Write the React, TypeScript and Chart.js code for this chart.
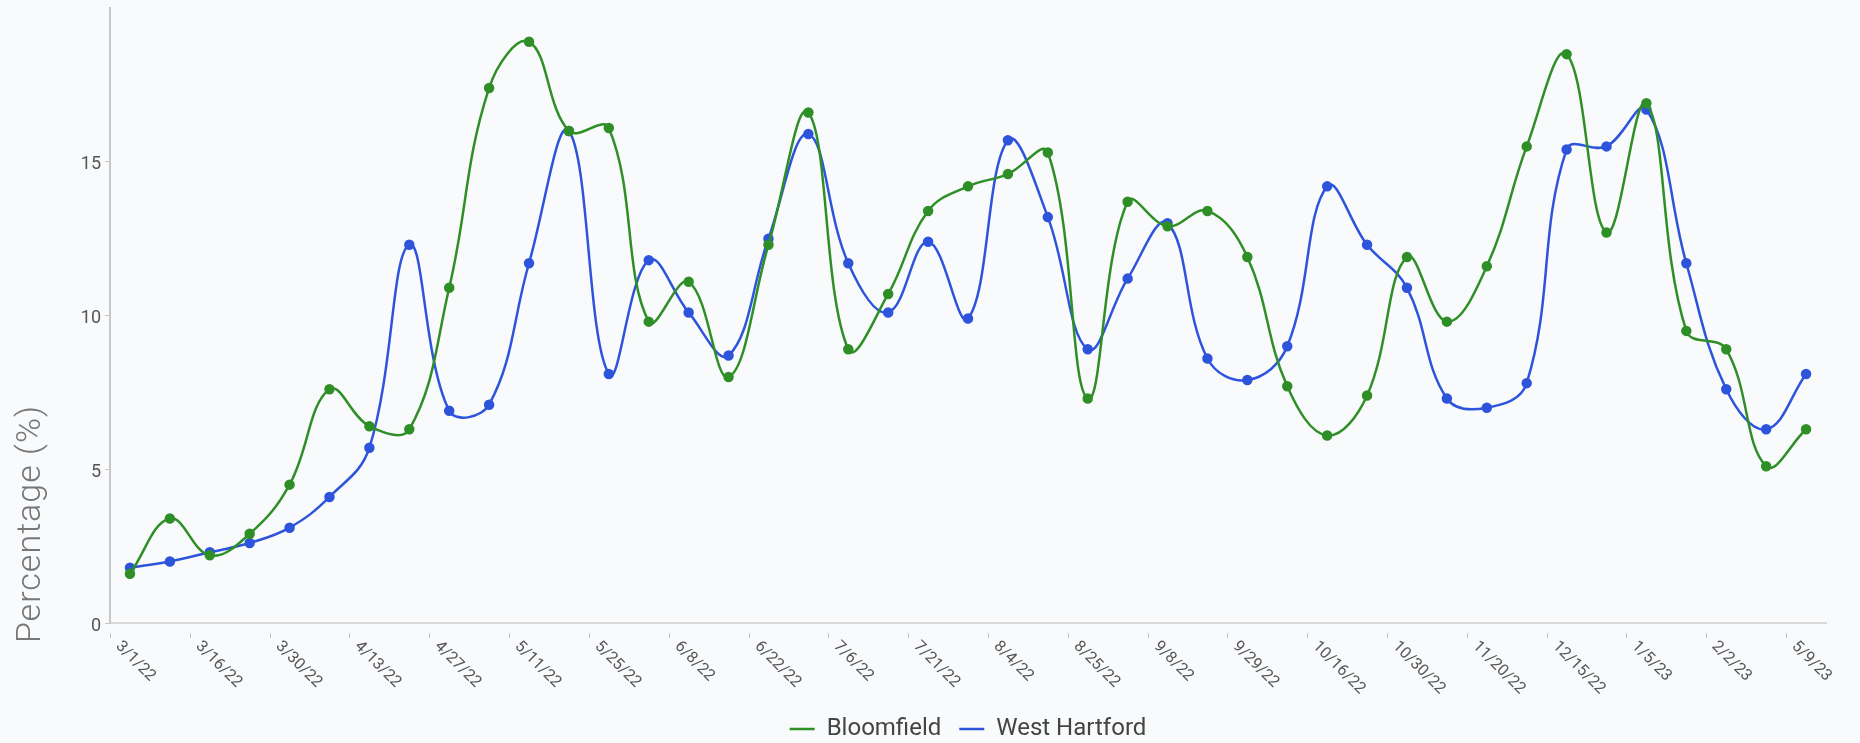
import React, { useEffect, useRef } from 'react';
import { Chart, registerables } from 'chart.js';

Chart.register(...registerables);

const categories = [
  '3/1/22', '3/9/22', '3/16/22', '3/23/22', '3/30/22', '4/6/22', '4/13/22', '4/20/22',
  '4/27/22', '5/4/22', '5/11/22', '5/18/22', '5/25/22', '6/1/22', '6/8/22', '6/15/22',
  '6/22/22', '6/29/22', '7/6/22', '7/13/22', '7/21/22', '7/28/22', '8/4/22', '8/11/22',
  '8/25/22', '9/1/22', '9/8/22', '9/15/22', '9/29/22', '10/9/22', '10/16/22', '10/23/22',
  '10/30/22', '11/6/22', '11/20/22', '12/1/22', '12/15/22', '12/22/22', '1/5/23', '1/19/23',
  '2/2/23', '3/2/23', '5/9/23',
];

const bloomfield = [
  1.6, 3.4, 2.2, 2.9, 4.5, 7.6, 6.4, 6.3, 10.9, 17.4, 18.9, 16.0, 16.1, 9.8, 11.1, 8.0,
  12.3, 16.6, 8.9, 10.7, 13.4, 14.2, 14.6, 15.3, 7.3, 13.7, 12.9, 13.4, 11.9, 7.7, 6.1, 7.4,
  11.9, 9.8, 11.6, 15.5, 18.5, 12.7, 16.9, 9.5, 8.9, 5.1, 6.3,
];

const westHartford = [
  1.8, 2.0, 2.3, 2.6, 3.1, 4.1, 5.7, 12.3, 6.9, 7.1, 11.7, 16.0, 8.1, 11.8, 10.1, 8.7,
  12.5, 15.9, 11.7, 10.1, 12.4, 9.9, 15.7, 13.2, 8.9, 11.2, 13.0, 8.6, 7.9, 9.0, 14.2, 12.3,
  10.9, 7.3, 7.0, 7.8, 15.4, 15.5, 16.7, 11.7, 7.6, 6.3, 8.1,
];

const seriesNames = ['Bloomfield', 'West Hartford'];
const seriesColors = ['#2f8f27', '#2d54db'];
const yTickValues = [0, 5, 10, 15];
const yTitle = 'Percentage (%)';

const FONT = 'Roboto, "Noto Sans", "DejaVu Sans", sans-serif';

export default function App() {
  const ref = useRef<HTMLCanvasElement>(null);

  useEffect(() => {
    document.body.style.margin = '0';
    document.body.style.overflow = 'hidden';
    document.body.style.background = '#f9fafc';
    Chart.defaults.font.family = FONT;

    const axisPlugin = {
      id: 'customAxisText',
      afterDraw(chart: any) {
        const { ctx, chartArea, scales } = chart;
        const x = scales.x;
        const step = x.getPixelForValue(1) - x.getPixelForValue(0);
        ctx.save();
        ctx.strokeStyle = '#c4c4c4';
        ctx.lineWidth = 1;
        ctx.fillStyle = '#555555';
        ctx.font = `16px ${FONT}`;
        ctx.textAlign = 'left';
        ctx.textBaseline = 'middle';
        categories.forEach((lab, i) => {
          if (i % 2 !== 0) return;
          const edge = Math.round(x.getPixelForValue(i) - step / 2);
          ctx.beginPath();
          ctx.moveTo(edge + 0.5, chartArea.bottom + 10);
          ctx.lineTo(edge + 0.5, chartArea.bottom + 15);
          ctx.stroke();
          ctx.save();
          ctx.translate(edge + 8, chartArea.bottom + 21);
          ctx.rotate(Math.PI / 4);
          ctx.fillText(lab, 0, 0);
          ctx.restore();
        });
        ctx.save();
        ctx.translate(31, chartArea.bottom - 99);
        ctx.rotate(-Math.PI / 2);
        ctx.textAlign = 'center';
        ctx.textBaseline = 'middle';
        ctx.fillStyle = '#777777';
        (ctx as any).letterSpacing = '1px';
        ctx.font = `300 34px ${FONT}`;
        ctx.fillText(yTitle, 0, 0);
        ctx.restore();
        ctx.restore();
      },
    };

    const chart = new Chart(ref.current as HTMLCanvasElement, {
      type: 'line',
      data: {
        labels: categories,
        datasets: [
          {
            label: seriesNames[0],
            data: bloomfield,
            borderColor: seriesColors[0],
            backgroundColor: seriesColors[0],
            pointBackgroundColor: seriesColors[0],
            pointBorderColor: seriesColors[0],
            borderWidth: 2.5,
            pointRadius: 4,
            tension: 0.4,
            fill: false,
          },
          {
            label: seriesNames[1],
            data: westHartford,
            borderColor: seriesColors[1],
            backgroundColor: seriesColors[1],
            pointBackgroundColor: seriesColors[1],
            pointBorderColor: seriesColors[1],
            borderWidth: 2.5,
            pointRadius: 4,
            tension: 0.4,
            fill: false,
          },
        ],
      },
      options: {
        animation: false,
        responsive: false,
        maintainAspectRatio: false,
        devicePixelRatio: 1,
        layout: { padding: { top: 8, right: 34, left: 0, bottom: -8 } },
        plugins: {
          legend: {
            position: 'bottom',
            fullSize: false,
            labels: {
              usePointStyle: true,
              pointStyle: 'line',
              pointStyleWidth: 25,
              padding: 18,
              color: '#444444',
              font: { size: 24, family: FONT },
            },
          },
          tooltip: { enabled: false },
        },
        scales: {
          x: {
            type: 'category',
            offset: true,
            grid: { display: false },
            border: { display: true, color: '#d9d9d9', width: 2 },
            ticks: { display: false },
            afterFit: (s: any) => {
              s.height = 76;
            },
          },
          y: {
            min: 0,
            max: 20,
            border: { display: true, color: '#c8c8c8', width: 2 },
            grid: { drawOnChartArea: false, tickLength: 5, color: '#c8c8c8' },
            ticks: {
              stepSize: 5,
              padding: 4,
              color: '#555555',
              labelOffset: 3,
              font: { size: 18, family: FONT },
              callback: (v: any) => (yTickValues.includes(Number(v)) ? String(v) : null),
            },
            afterFit: (s: any) => {
              s.width = 110;
              s.paddingTop = 0;
              s.paddingBottom = 0;
            },
          },
        },
      },
      plugins: [axisPlugin],
    } as any);

    return () => {
      chart.destroy();
    };
  }, []);

  return (
    <div style={{ width: '1860px', height: '743px', position: 'relative' }}>
      <canvas ref={ref} width={1860} height={743} style={{ display: 'block' }} />
    </div>
  );
}
